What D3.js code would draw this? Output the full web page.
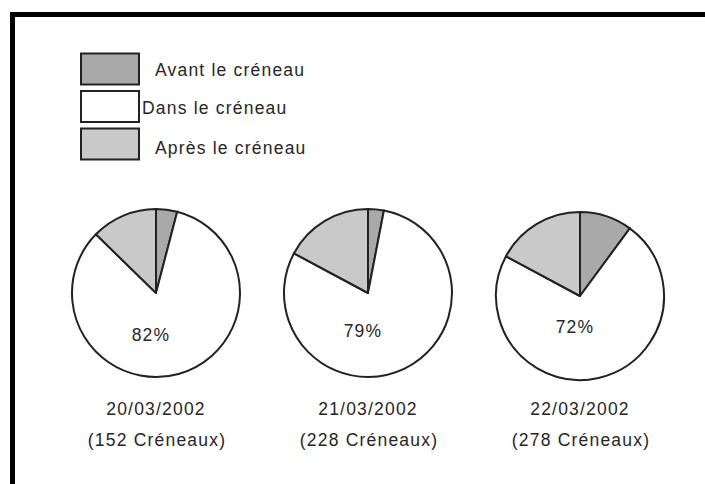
<!DOCTYPE html>
<html>
<head>
<meta charset="utf-8">
<script src="https://cdn.jsdelivr.net/npm/d3@7"></script>
<style>
  body { margin: 0; background: #fff; }
  text { font-family: "Liberation Sans", Arial, sans-serif; font-size: 17.5px; letter-spacing: 1.2px; fill: #262626; }
</style>
</head>
<body>
<div id="chart"></div>
<script>
var categories = ['Avant le créneau', 'Dans le créneau', 'Après le créneau'];
var dates = ['20/03/2002', '21/03/2002', '22/03/2002'];
var counts = ['(152 Créneaux)', '(228 Créneaux)', '(278 Créneaux)'];
var avant = [4, 3, 10];
var dans = [82, 79, 72];
var apres = [12.5, 17, 17];

var width = 705, height = 484;
var radius = 84;

var svg = d3.select('#chart')
  .append('svg')
  .attr('width', width)
  .attr('height', height);

// frame, runs off the right and bottom edges
svg.append('rect')
  .attr('x', 12.5)
  .attr('y', 14.5)
  .attr('width', 900)
  .attr('height', 700)
  .style('fill', 'none')
  .style('stroke', '#000')
  .style('stroke-width', 5);

var color = d3.scaleOrdinal()
  .domain(categories)
  .range(['#a9a9a9', '#ffffff', '#c9c9c9']);

// legend
var legendY = d3.scalePoint().domain(categories).range([53.5, 128.5]);
var legendTextX = [155, 142, 155];
var legendTextDy = [22, 23, 25];

var legend = svg.selectAll('.legend')
  .data(categories)
  .enter().append('g')
  .attr('class', 'legend')
  .attr('transform', function(d){ return 'translate(0,' + legendY(d) + ')'; });

legend.append('rect')
  .attr('x', 81)
  .attr('width', 58)
  .attr('height', 31)
  .style('fill', color)
  .style('stroke', '#222')
  .style('stroke-width', 2);

legend.append('text')
  .attr('x', function(d, i){ return legendTextX[i]; })
  .attr('y', function(d, i){ return legendTextDy[i]; })
  .text(function(d){ return d; });

// pies
var xScale = d3.scalePoint().domain(dates).range([156, 580]);
var centerY = [293, 293, 296];
var labelDy = [48, 44, 37];

var pie = d3.pie().sort(null).value(function(d){ return d.value; });
var arc = d3.arc().innerRadius(0).outerRadius(radius);

var pies = svg.selectAll('.pie')
  .data(dates)
  .enter().append('g')
  .attr('class', 'pie')
  .attr('transform', function(d, i){ return 'translate(' + xScale(d) + ',' + centerY[i] + ')'; });

pies.selectAll('path')
  .data(function(d, i){
    return pie([
      { key: categories[0], value: avant[i] },
      { key: categories[1], value: dans[i] },
      { key: categories[2], value: apres[i] }
    ]);
  })
  .enter().append('path')
  .attr('d', arc)
  .style('fill', function(d){ return color(d.data.key); })
  .style('stroke', '#222')
  .style('stroke-width', 2)
  .style('stroke-linejoin', 'round');

pies.append('text')
  .attr('x', -5)
  .attr('y', function(d, i){ return labelDy[i]; })
  .attr('text-anchor', 'middle')
  .text(function(d, i){ return dans[i] + '%'; });

// labels under each pie
svg.selectAll('.date')
  .data(dates)
  .enter().append('text')
  .attr('class', 'date')
  .attr('x', function(d){ return xScale(d); })
  .attr('y', 415)
  .attr('text-anchor', 'middle')
  .text(function(d){ return d; });

svg.selectAll('.count')
  .data(counts)
  .enter().append('text')
  .attr('class', 'count')
  .attr('x', function(d, i){ return xScale(dates[i]) + 1; })
  .attr('y', 446)
  .attr('text-anchor', 'middle')
  .text(function(d){ return d; });
</script>
</body>
</html>
